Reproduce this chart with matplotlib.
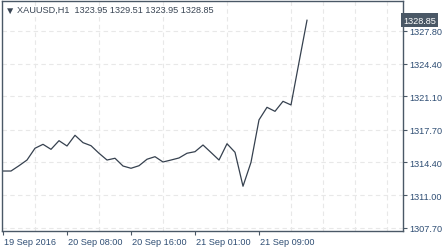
import matplotlib.pyplot as plt
import matplotlib.transforms as mtransforms
import numpy as np

# hourly closes, XAUUSD H1
closes = [1313.49, 1313.49, 1314.03, 1314.61, 1315.81, 1316.21, 1315.70, 1316.58,
          1316.04, 1317.13, 1316.38, 1316.07, 1315.30, 1314.61, 1314.79, 1314.00,
          1313.77, 1314.03, 1314.69, 1314.95, 1314.41, 1314.61, 1314.82, 1315.30,
          1315.46, 1316.14, 1315.38, 1314.61, 1316.27, 1315.40, 1311.94, 1314.38,
          1318.70, 1319.98, 1319.57, 1320.59, 1320.22, 1324.56, 1328.85]
time_ticks = [0, 8, 16, 24, 32]
time_labels = ['19 Sep 2016', '20 Sep 08:00', '20 Sep 16:00', '21 Sep 01:00', '21 Sep 09:00']
price_ticks = [1307.70, 1311.00, 1314.40, 1317.70, 1321.10, 1324.40, 1327.80]
title = 'XAUUSD,H1  1323.95 1329.51 1323.95 1328.85'
last_price = closes[-1]

frame_col = '#4a5866'
text_col = '#2f4e74'
fonts = ['Liberation Sans', 'DejaVu Sans']
plt.rcParams['font.family'] = fonts

fig = plt.figure(figsize=(4.46, 2.53), dpi=100)
ax = fig.add_axes([2 / 446, 21 / 253, 401 / 446, 230 / 253])

bars = np.arange(len(closes))
ax.plot(bars, closes, color='#36414f', lw=0.9)

ax.set_xlim(-0.125, 50)
ax.set_ylim(1307.38, 1330.81)

# grid: every 4 bars vertically, every price tick horizontally
ax.set_xticks(np.arange(0, 50, 4), minor=True)
ax.grid(True, which='minor', axis='x', color='#e8e8e8', ls=(0, (4, 3)), lw=0.8)
ax.grid(True, which='major', axis='y', color='#e8e8e8', ls=(0, (4, 3)), lw=0.8)
ax.set_axisbelow(True)

ax.set_xticks(time_ticks)
ax.set_xticklabels(time_labels, ha='left')
ax.set_yticks(price_ticks)
ax.set_yticklabels([f'{p:.2f}' for p in price_ticks])
ax.yaxis.tick_right()
ax.tick_params(axis='both', which='major', labelsize=6.6, colors=frame_col,
               labelcolor=text_col, length=3, width=0.8, pad=1.5)
ax.tick_params(axis='x', which='minor', length=0)
offset = mtransforms.ScaledTranslation(1 / 100, 0, fig.dpi_scale_trans)
for lab in ax.get_xticklabels():
    lab.set_transform(lab.get_transform() + offset)

for s in ax.spines.values():
    s.set_color(frame_col)
    s.set_linewidth(1.0)

# title line in the top-left corner
ax.text(3 / 401, 0.962, '\u25bc', transform=ax.transAxes, fontsize=7.5,
        color='#3a4655', va='center', ha='left', family=fonts)
ax.text(15 / 401, 0.965, title, transform=ax.transAxes, fontsize=6.6,
        color='#3a4655', va='center', ha='left', family=fonts)

# current price label on the price scale
trans = mtransforms.blended_transform_factory(ax.transAxes, ax.transData)
ax.text(1.0, last_price, f'{last_price:.2f}', transform=trans, fontsize=6.6,
        color='white', va='center', ha='left', family=fonts,
        bbox=dict(boxstyle='square,pad=0.25', fc=frame_col, ec='none'))

fig.savefig('out.png', dpi=100)
